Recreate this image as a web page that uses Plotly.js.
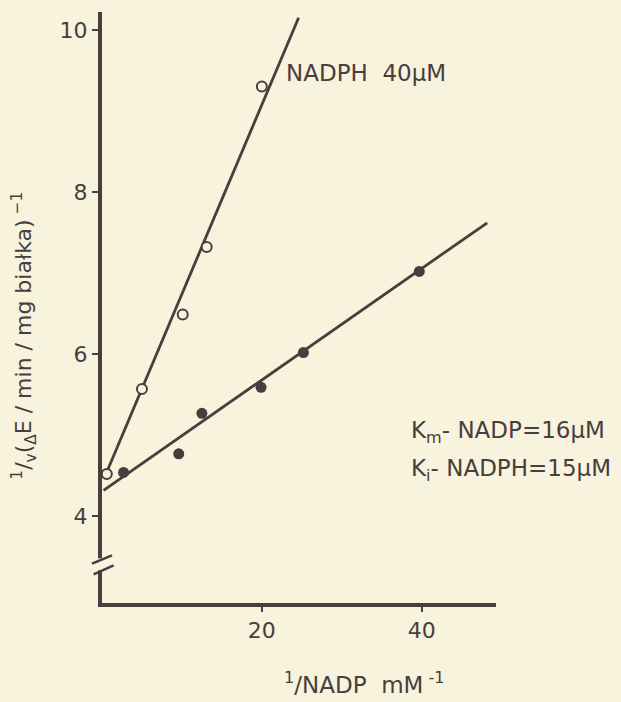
<!DOCTYPE html>
<html>
<head>
<meta charset="utf-8">
<script src="https://cdn.plot.ly/plotly-3.0.1.min.js"></script>
<style>
html,body{margin:0;padding:0;background:#f7f3dd;}
#chart{width:621px;height:702px;}
</style>
</head>
<body>
<div id="chart"></div>
<script>
// Open circles: NADPH 40 µM
const openX = [0.6, 5.0, 10.1, 13.1, 20.0];
const openY = [4.52, 5.57, 6.49, 7.32, 9.30];
// Fitted line for NADPH 40 µM
const openLineX = [0.4, 24.6];
const openLineY = [4.50, 10.15];
// Filled circles: no inhibitor
const fillX = [2.7, 9.6, 12.5, 19.9, 25.2, 39.7];
const fillY = [4.54, 4.77, 5.27, 5.59, 6.02, 7.02];
// Fitted line, no inhibitor
const fillLineX = [0.2, 48.2];
const fillLineY = [4.32, 7.62];

const xTicks = [20, 40];
const yTicks = [4, 6, 8, 10];

const ink = '#4a3d3d';
const bg = '#f7f3dd';
const font = 'DejaVu Sans, sans-serif';

const traces = [
  {x: openLineX, y: openLineY, mode: 'lines', line: {color: ink, width: 2.8}, hoverinfo: 'skip'},
  {x: fillLineX, y: fillLineY, mode: 'lines', line: {color: ink, width: 2.8}, hoverinfo: 'skip'},
  {x: openX, y: openY, mode: 'markers', marker: {symbol: 'circle', size: 10, color: bg, line: {color: ink, width: 2}}},
  {x: fillX, y: fillY, mode: 'markers', marker: {symbol: 'circle', size: 11, color: ink, line: {color: ink, width: 0}}}
];

const layout = {
  width: 621, height: 702,
  margin: {l: 102, r: 125, t: 12, b: 99},
  paper_bgcolor: bg, plot_bgcolor: bg,
  showlegend: false,
  font: {family: font, size: 22, color: ink},
  xaxis: {
    range: [0, 49.3], showgrid: false, zeroline: false,
    showline: true, linecolor: ink, linewidth: 4,
    ticks: 'outside', ticklen: 5, tickwidth: 2, tickcolor: ink,
    tickvals: xTicks, ticktext: xTicks.map(String),
    tickfont: {family: font, size: 22, color: ink}
  },
  yaxis: {
    range: [2.93, 10.22], showgrid: false, zeroline: false,
    showline: true, linecolor: ink, linewidth: 4,
    ticks: 'outside', ticklen: 6, tickwidth: 2, tickcolor: ink,
    tickvals: yTicks, ticktext: yTicks.map(String),
    tickfont: {family: font, size: 22, color: ink}
  },
  annotations: [
    {text: 'NADPH  40μM', xref: 'paper', yref: 'paper', x: 0.462, y: 0.896,
     xanchor: 'left', yanchor: 'middle', showarrow: false, font: {size: 23}},
    {text: 'K<sub>m</sub>- NADP=16μM', xref: 'paper', yref: 'paper', x: 0.778, y: 0.289,
     xanchor: 'left', yanchor: 'middle', showarrow: false, font: {size: 23}},
    {text: 'K<sub>i</sub>- NADPH=15μM', xref: 'paper', yref: 'paper', x: 0.778, y: 0.2245,
     xanchor: 'left', yanchor: 'middle', showarrow: false, font: {size: 23}},
    {text: '<sup>1</sup>/NADP  mM<sup> -1</sup>', xref: 'paper', yref: 'paper', x: 0.665, y: -0.136,
     xanchor: 'center', yanchor: 'middle', showarrow: false, font: {size: 23}},
    {text: '<sup>1</sup>/<sub>v</sub>(<sub>Δ</sub>E / min / mg białka)<sup> −1</sup>', xref: 'paper', yref: 'paper',
     x: -0.197, y: 0.453, textangle: -90, xanchor: 'center', yanchor: 'middle', showarrow: false, font: {size: 22}}
  ],
  shapes: [
    {type: 'rect', xref: 'paper', yref: 'paper', xsizemode: 'pixel', ysizemode: 'pixel',
     xanchor: 0, yanchor: 0.0689, x0: -5, x1: 5, y0: 4, y1: -8,
     fillcolor: bg, line: {width: 0}, layer: 'above'},
    {type: 'line', xref: 'paper', yref: 'paper', xsizemode: 'pixel', ysizemode: 'pixel',
     xanchor: 0, yanchor: 0.0689, x0: -10, x1: 10, y0: -1.3, y1: 7,
     line: {color: ink, width: 2.5}, layer: 'above'},
    {type: 'line', xref: 'paper', yref: 'paper', xsizemode: 'pixel', ysizemode: 'pixel',
     xanchor: 0, yanchor: 0.0689, x0: -8.4, x1: 11.6, y0: -12, y1: -3,
     line: {color: ink, width: 2.5}, layer: 'above'}
  ]
};

Plotly.newPlot('chart', traces, layout, {displayModeBar: false, staticPlot: true});
</script>
</body>
</html>
